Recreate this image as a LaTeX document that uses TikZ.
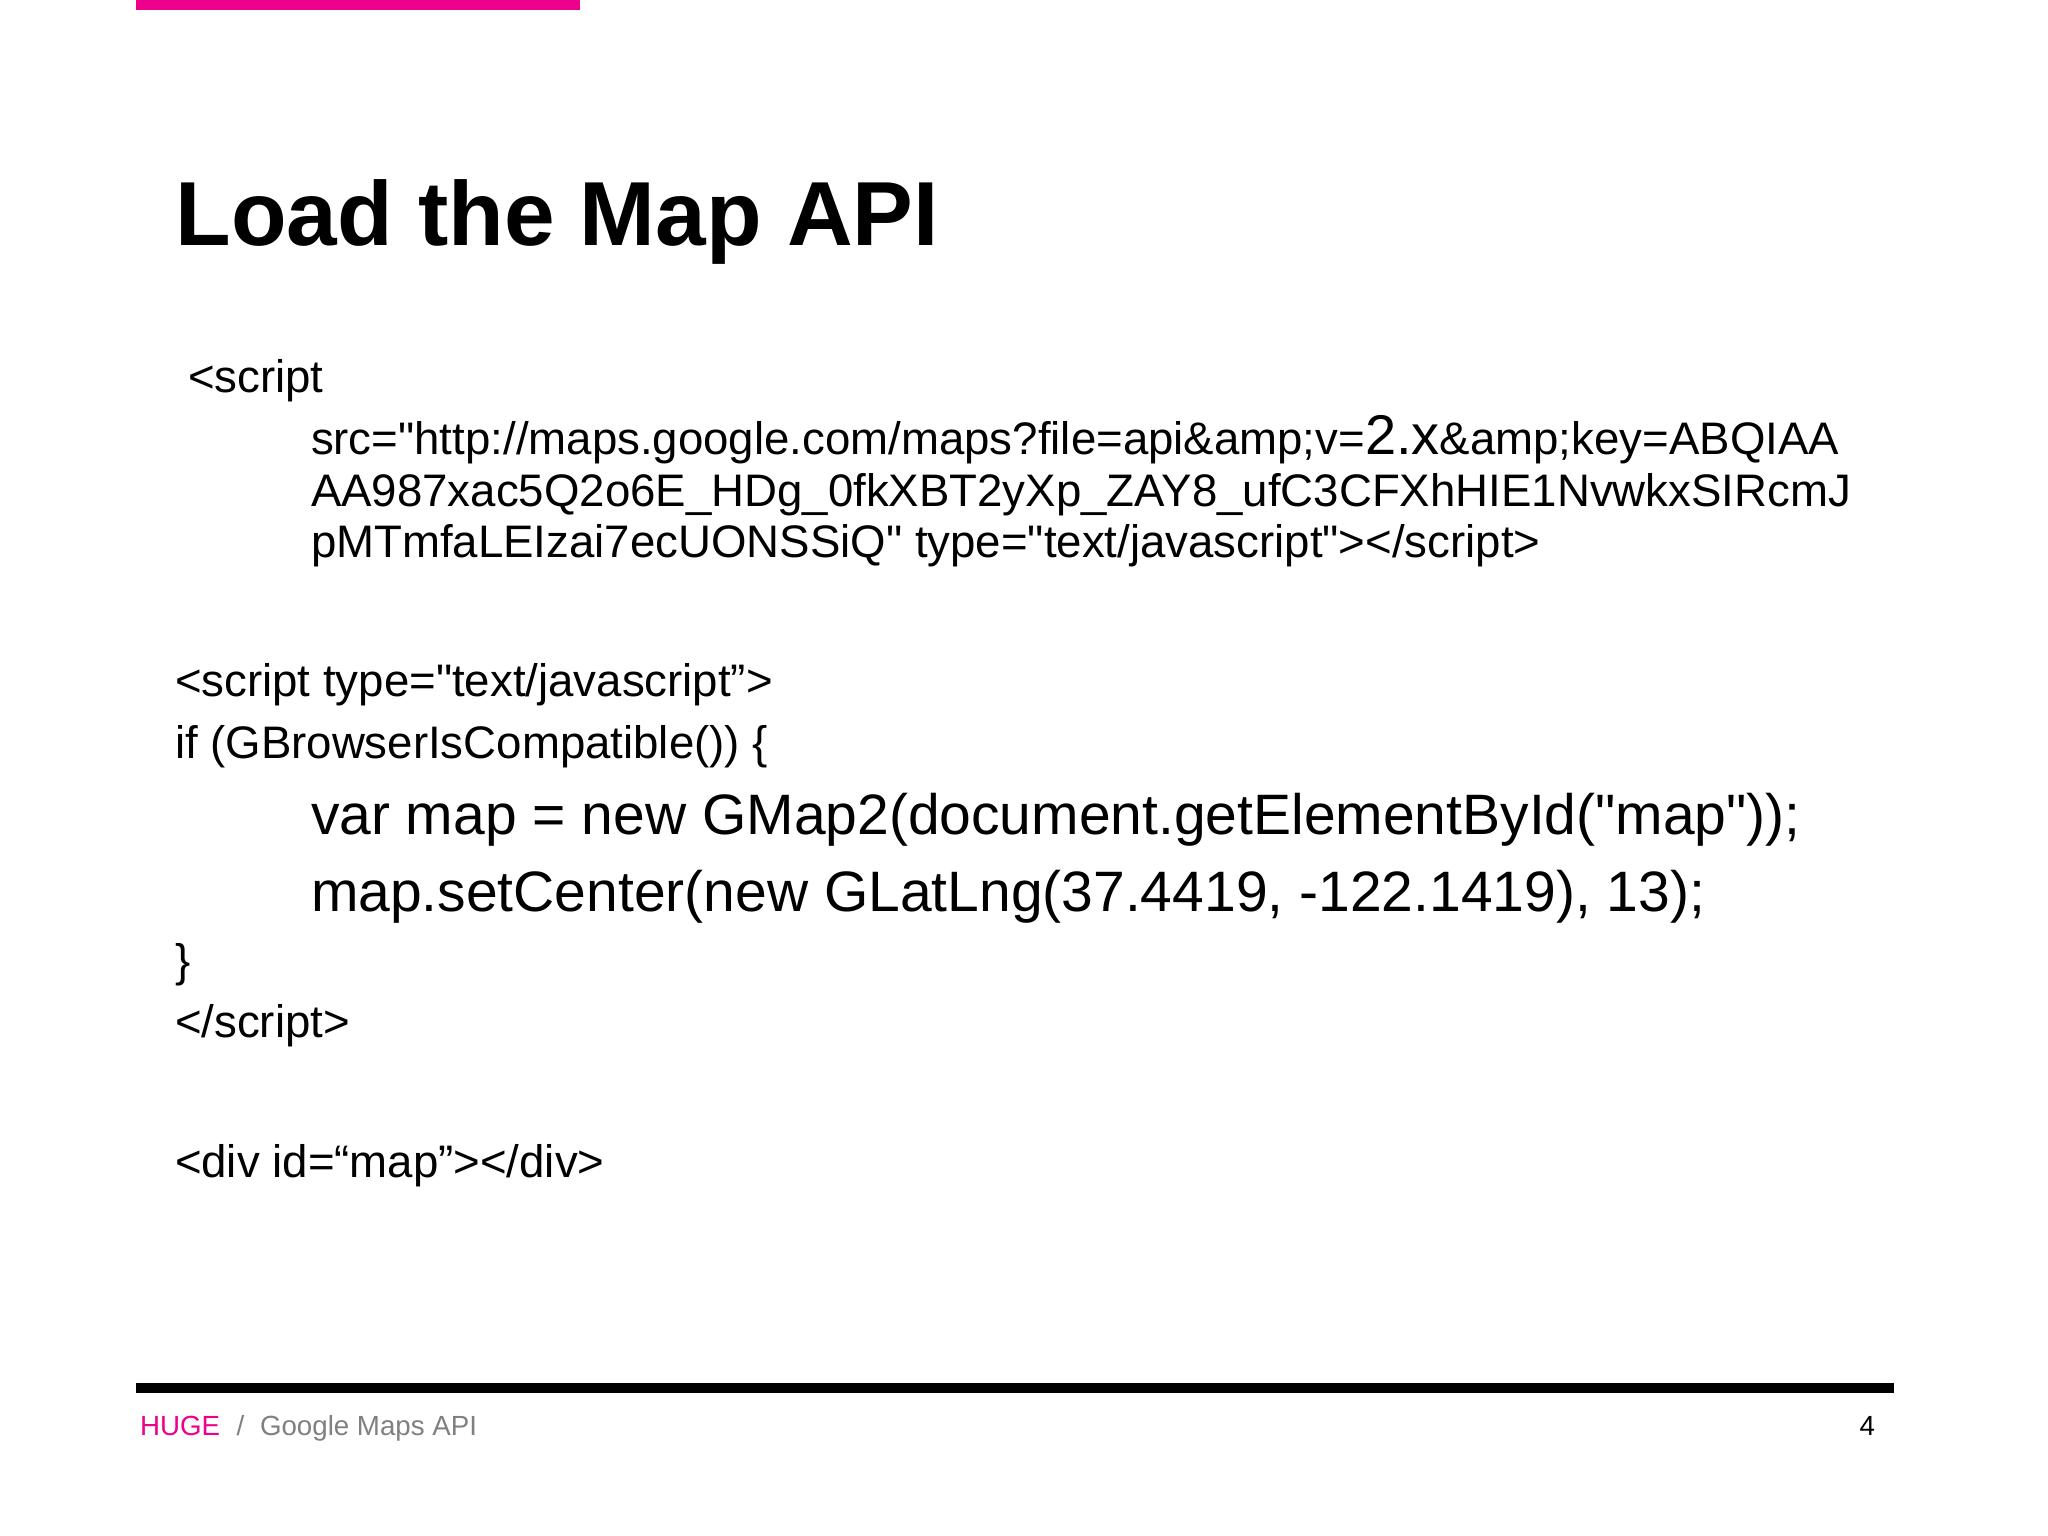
\documentclass[tikz,border=0pt]{standalone}
\usepackage{fontspec}
\newfontfamily\libsans{Liberation Sans}
\definecolor{hugepink}{HTML}{EC008C}
\definecolor{footgrey}{HTML}{808080}
\newcommand{\fs}[1]{\libsans\fontsize{#1}{#1}\selectfont}
\tikzset{
  txt/.style={anchor=base west,inner sep=0pt,outer sep=0pt,text=black},
  body/.style={txt,font=\fs{45.6}},
  big/.style={txt,font=\fs{57}},
  foot/.style={txt,font=\fs{27.7}},
}
\begin{document}
\begin{tikzpicture}[x=1pt,y=-1pt]
\useasboundingbox (0,0) rectangle (2048,1536);
\fill[hugepink] (136,0) rectangle (580,10);
\fill[black] (136,1382.5) rectangle (1894,1392.5);
\node[txt,font=\fs{91}\bfseries] (title) at (175.5,245) {Load the Map API};
\node[body] (l1) at (188,392) {<script};
\node[body] (l2) at (311,454) {src="http://maps.google.com/maps?file=api\&amp;v={\fs{56}2.x}\&amp;key=ABQIAA};
\node[body] (l3) at (311,506) {AA987xac5Q2o6E\_HDg\_0fkXBT2yXp\_ZAY8\_ufC3CFXhHIE1NvwkxSIRcmJ};
\node[body] (l4) at (311,557) {pMTmfaLEIzai7ecUONSSiQ" type="text/javascript"></script>};
\node[body] (l5) at (175,696) {<script type="text/javascript”>};
\node[body] (l6) at (175,758) {if (GBrowserIsCompatible()) \{};
\node[big] (l7) at (311,834) {var map = new GMap2(document.getElementById("map"));};
\node[big] (l8) at (311,911) {map.setCenter(new GLatLng(37.4419, -122.1419), 13);};
\node[body] (l9) at (175,976) {\}};
\node[body] (l10) at (175,1037) {</script>};
\node[body] (l11) at (175,1177) {<div id=“map”></div>};
\node[foot,text=hugepink] (f1) at (140,1435.5) {HUGE};
\node[foot,text=footgrey] (f2) at (236.5,1435.5) {/};
\node[foot,text=footgrey] (f3) at (260,1435.5) {Google Maps API};
\node[foot,anchor=base east] (f4) at (1875,1435.5) {4};
\end{tikzpicture}
\end{document}
